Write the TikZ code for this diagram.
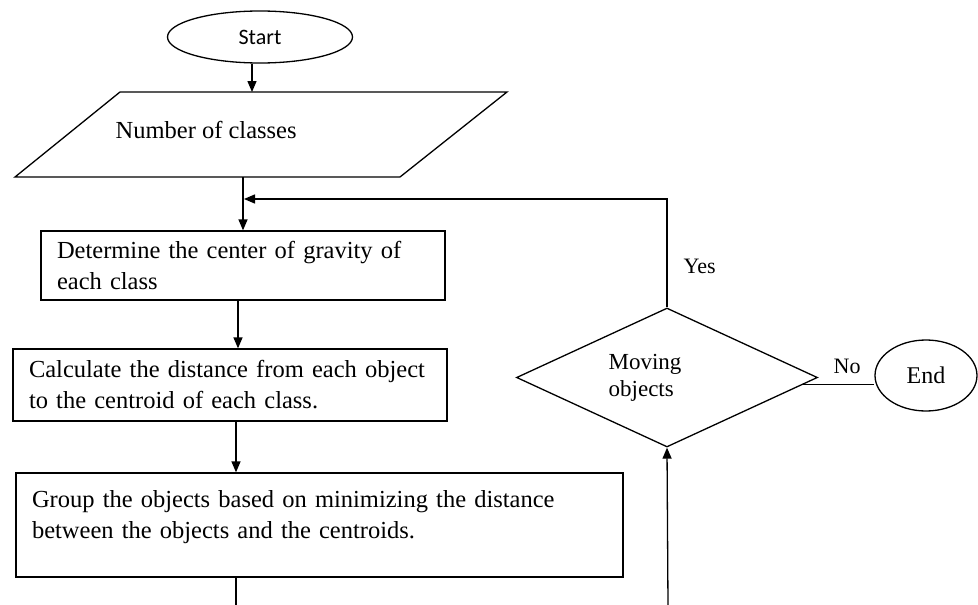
\documentclass[tikz,border=0pt]{standalone}
\usepackage{fontspec}
\setmainfont{Liberation Serif}
\newfontfamily\calib{Carlito}
\usetikzlibrary{shapes.geometric,arrows.meta,calc}
\begin{document}
\begin{tikzpicture}[x=1pt,y=-1pt,line width=1.3pt,
  arr/.style={-{Triangle[length=11pt,width=9pt]}},
  txt/.style={font=\fontsize{24.5}{31}\selectfont},
  proc/.style={draw,rectangle,inner xsep=16pt,inner ysep=0pt,align=left,txt},
  lbl/.style={font=\fontsize{22}{26}\selectfont,inner sep=0pt}]
\useasboundingbox (0,0) rectangle (978,605);
% start
\node[draw,ellipse,minimum width=185pt,minimum height=52pt,inner sep=0pt,
      font=\calib\fontsize{22}{26}\selectfont] (start) at (260,37) {Start};
% parallelogram
\coordinate (ptl) at (120,92);
\coordinate (ptr) at (507,92);
\coordinate (pbr) at (400,177);
\coordinate (pbl) at (15,177);
\draw (ptl) -- (ptr) -- (pbr) -- (pbl) -- cycle;
\node[txt,anchor=base west,inner sep=0pt] (num) at (115,138) {Number of classes};
% boxes
\node[proc,text width=372pt,minimum height=69pt] (box1) at (243,265.5)
  {Determine the center of gravity of\\each class};
\node[proc,text width=402pt,minimum height=72pt] (box2) at (230,385)
  {Calculate the distance from each object\\to the centroid of each class.};
\node[proc,text width=575pt,minimum height=104pt] (box3) at (319.5,525)
  {Group the objects based on minimizing the distance\\between the objects and the centroids.\\[-10pt]\mbox{}};
% decision
\node[draw,diamond,minimum width=301pt,minimum height=139pt,inner sep=0pt] (dia) at (667,377.5) {};
\node[align=left,inner sep=0pt,font=\fontsize{23}{27}\selectfont,anchor=west] (mov) at (608,378) {Moving\\objects};
\node[draw,ellipse,minimum width=102pt,minimum height=71pt,inner sep=0pt,
      font=\fontsize{24}{28}\selectfont] (end) at (926,375.5) {End};
\node[lbl,anchor=base west] (yes) at (683,273) {Yes};
\node[lbl,anchor=base west] (no) at (833,373) {No};
% connectors
\coordinate (s1) at ([xshift=-8]start.south);
\draw[arr] (s1) -- (s1 |- ptl);
\coordinate (pb) at (243,177);
\draw[arr] (pb) -- (box1.north);
\coordinate (join) at (244,199);
\draw[arr] (dia.north) |- (join);
\coordinate (b1s) at ([xshift=-5]box1.south);
\draw[arr] (b1s) -- (b1s |- box2.north);
\coordinate (b2s) at ([xshift=6]box2.south);
\draw[arr] (b2s) -- (b2s |- box3.north);
\coordinate (bot1) at (236,605);
\draw (bot1 |- box3.south) -- (bot1);
\coordinate (bot2) at (668,605);
\draw[arr] (bot2) -- (dia.south);
\draw (dia.-3) -- (dia.-3 -| end.west);
\end{tikzpicture}
\end{document}
